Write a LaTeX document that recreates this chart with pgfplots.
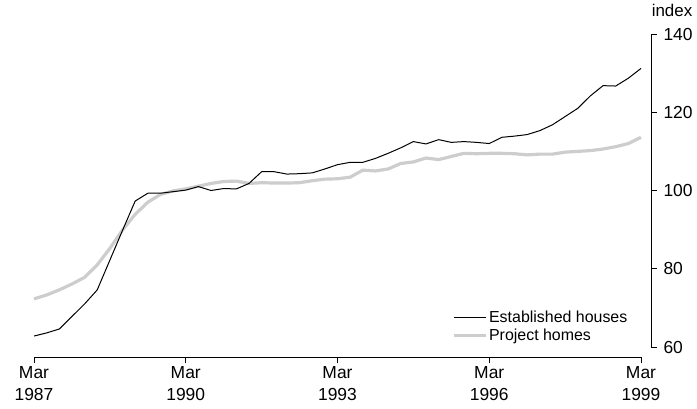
\documentclass[border=0pt]{standalone}
\usepackage{fontspec}
\setmainfont{Liberation Sans}
\usepackage{pgfplots}
\pgfplotsset{compat=1.18}
\usepackage{pgfplotstable}

% quarterly index, Mar 1987 = quarter 0 ... Mar 1999 = quarter 48
\pgfplotstableread{
q  est    proj
0  62.8   72.3
1  63.6   73.3
2  64.6   74.6
3  67.8   76.1
4  71.0   77.8
5  74.6   81.0
6  82.2   85.2
7  89.8   89.9
8  97.3   93.9
9  99.3   97.0
10 99.3   99.0
11 99.7   99.9
12 100.1  100.4
13 101.0  101.1
14 100.0  101.8
15 100.5  102.3
16 100.4  102.4
17 101.8  101.8
18 104.8  102.0
19 104.8  101.9
20 104.2  101.9
21 104.3  102.0
22 104.5  102.5
23 105.5  102.9
24 106.6  103.0
25 107.2  103.4
26 107.2  105.2
27 108.2  105.0
28 109.5  105.5
29 110.9  106.9
30 112.5  107.3
31 111.9  108.3
32 113.0  107.9
33 112.3  108.7
34 112.5  109.5
35 112.3  109.4
36 112.0  109.5
37 113.6  109.5
38 113.9  109.4
39 114.3  109.1
40 115.3  109.3
41 116.8  109.3
42 118.9  109.8
43 121.0  110.0
44 124.2  110.2
45 126.8  110.6
46 126.7  111.2
47 128.7  112.0
48 131.2  113.6
}\prices

\definecolor{lightgrey}{HTML}{CDCDCD}

\begin{document}
\begin{tikzpicture}
\begin{axis}[
    scale only axis,
    width=607bp, height=313bp,
    xmin=0, xmax=48, ymin=60, ymax=140,
    axis x line=bottom, axis y line=right,
    axis x line shift=10bp, axis y line shift=10bp,
    axis line style={-, line width=0.9pt},
    tick style={black, line width=0.9pt},
    tick align=outside,
    major tick length=6bp,
    xtick={0,12,24,36,48},
    xticklabels={Mar\\1987, Mar\\1990, Mar\\1993, Mar\\1996, Mar\\1999},
    xticklabel style={align=center, font=\fontsize{17.5}{22}\selectfont, yshift=0bp},
    ytick={60,80,...,140},
    yticklabel style={font=\fontsize{17.5}{20}\selectfont, xshift=3bp},
    /pgf/number format/assume math mode=true,
    clip=false,
    reverse legend,
    legend cell align=left,
    legend image code/.code={\draw[#1] (0bp,0bp) -- (32bp,0bp);},
    legend style={draw=none, fill=none, inner sep=0pt,
        at={(rel axis cs:0.689,0.065)}, anchor=west,
        font=\fontsize{16}{20}\selectfont,
        nodes={inner sep=1.5bp}, row sep=1.5bp,
        /tikz/every even column/.append style={column sep=10bp}},
]
\addplot[lightgrey, line width=3.2pt, line join=round] table[x=q, y=proj] {\prices};
\addlegendentry{Project homes}
\addplot[black, line width=1pt, line join=round] table[x=q, y=est] {\prices};
\addlegendentry{Established houses}

\node[anchor=base, font=\fontsize{17}{20}\selectfont] at ([shift={(31bp,17bp)}]rel axis cs:1,1) {index};
\path ([shift={(-34bp,-62bp)}]rel axis cs:0,0) rectangle ([shift={(56bp,34bp)}]rel axis cs:1,1);
\end{axis}
\end{tikzpicture}
\end{document}
